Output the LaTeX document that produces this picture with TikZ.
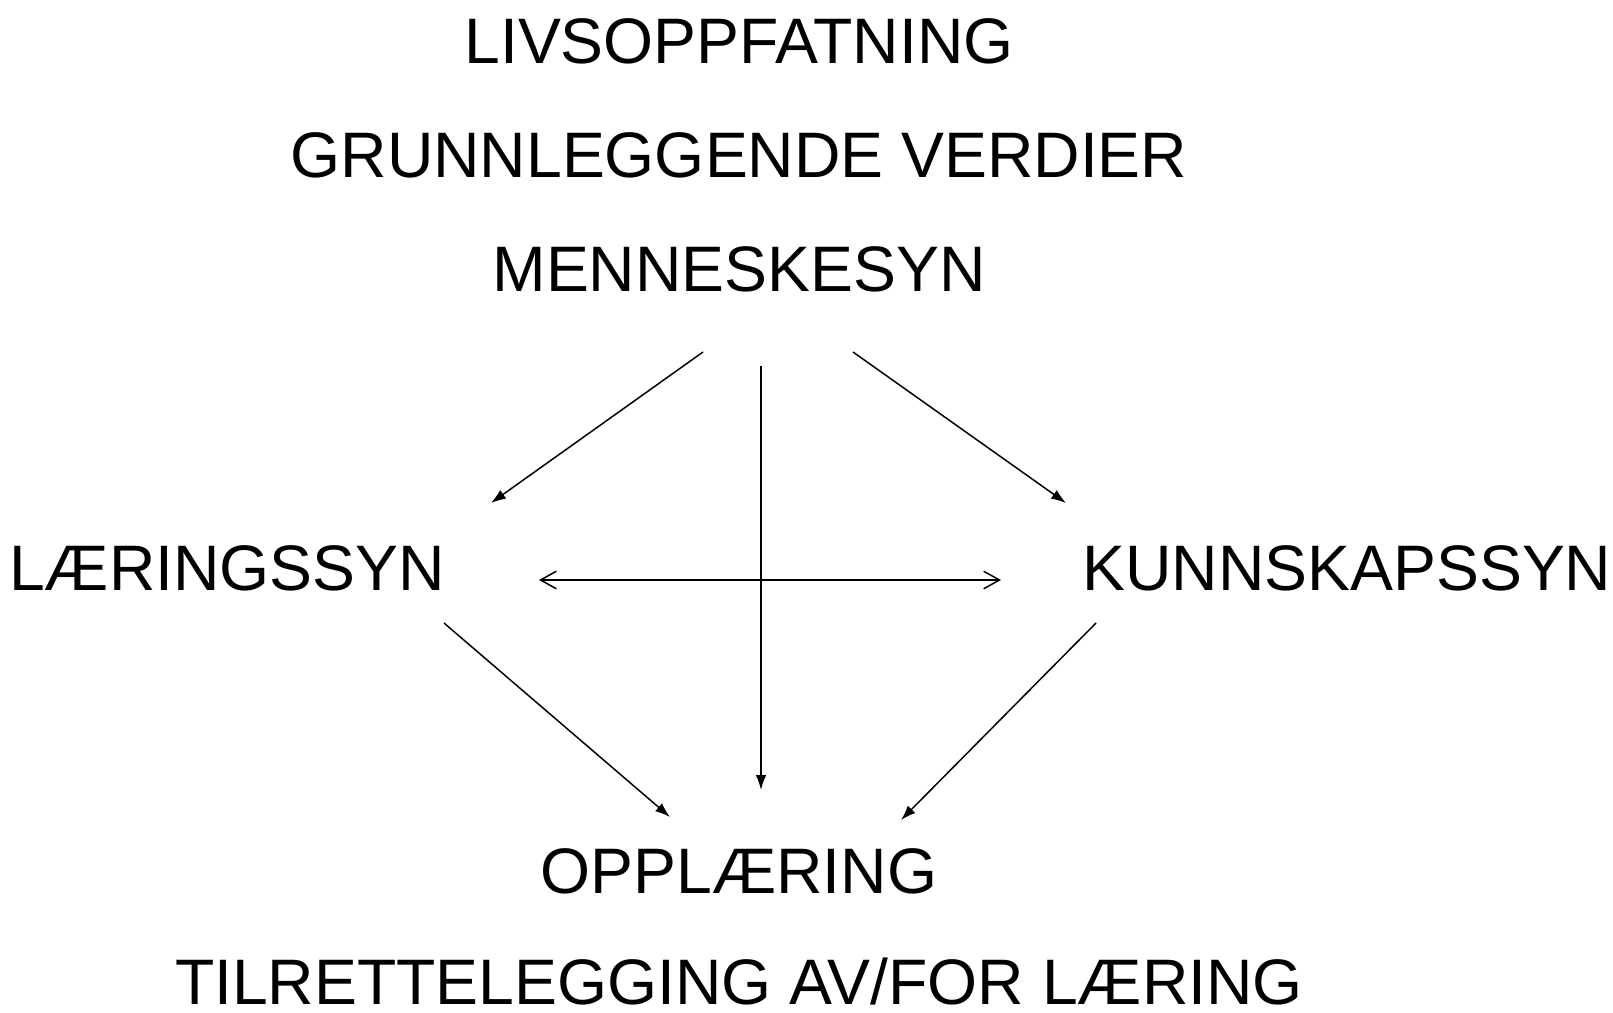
\documentclass[tikz,border=0pt]{standalone}
\usepackage{fontspec}
\setmainfont{Liberation Sans}
\usetikzlibrary{arrows.meta}

\begin{document}
\begin{tikzpicture}[x=0.02cm, y=-0.02cm]

        % frame of the page
        \useasboundingbox (0, 0) rectangle (1613, 1012);

        \tikzset{
            label/.style={anchor=base, inner sep=0pt,
                font=\fontsize{36.6}{44}\selectfont},
            pil/.style={line width=0.85pt,
                -{Latex[length=8.5pt, width=6pt]}},
            dobbel/.style={line width=0.85pt,
                {Straight Barb[length=9pt, width=10pt]}-{Straight Barb[length=9pt, width=10pt]}}
        }

        % the texts
        \begin{scope}
            \node[label] (LIV) at (739, 63) {LIVSOPPFATNING};
            \node[label] (GRV) at (739, 177) {GRUNNLEGGENDE VERDIER};
            \node[label] (MEN) at (739, 291) {MENNESKESYN};
            \node[label] (LAE) at (227, 590) {LÆRINGSSYN};
            \node[label] (KUN) at (1347, 590) {KUNNSKAPSSYN};
            \node[label] (OPP) at (739, 893) {OPPLÆRING};
            \node[label] (TIL) at (739, 1004)
            {TILRETTELEGGING AV/FOR LÆRING};
        \end{scope}

        % ends of the arrows
        \coordinate (M1) at (703, 352);
        \coordinate (M2) at (761, 366);
        \coordinate (M3) at (853, 352);
        \coordinate (L1) at (491, 503);
        \coordinate (L2) at (539, 580);
        \coordinate (L3) at (444, 623);
        \coordinate (K1) at (1066, 503);
        \coordinate (K2) at (1001, 580);
        \coordinate (K3) at (1096, 623);
        \coordinate (O1) at (670, 817);
        \coordinate (O2) at (761, 790);
        \coordinate (O3) at (901, 820);

        \begin{scope}
            \draw[pil] (M1) -- (L1);
            \draw[pil] (M2) -- (O2);
            \draw[pil] (M3) -- (K1);
            \draw[dobbel] (L2) -- (K2);
            \draw[pil] (L3) -- (O1);
            \draw[pil] (K3) -- (O3);
        \end{scope}

\end{tikzpicture}
\end{document}
